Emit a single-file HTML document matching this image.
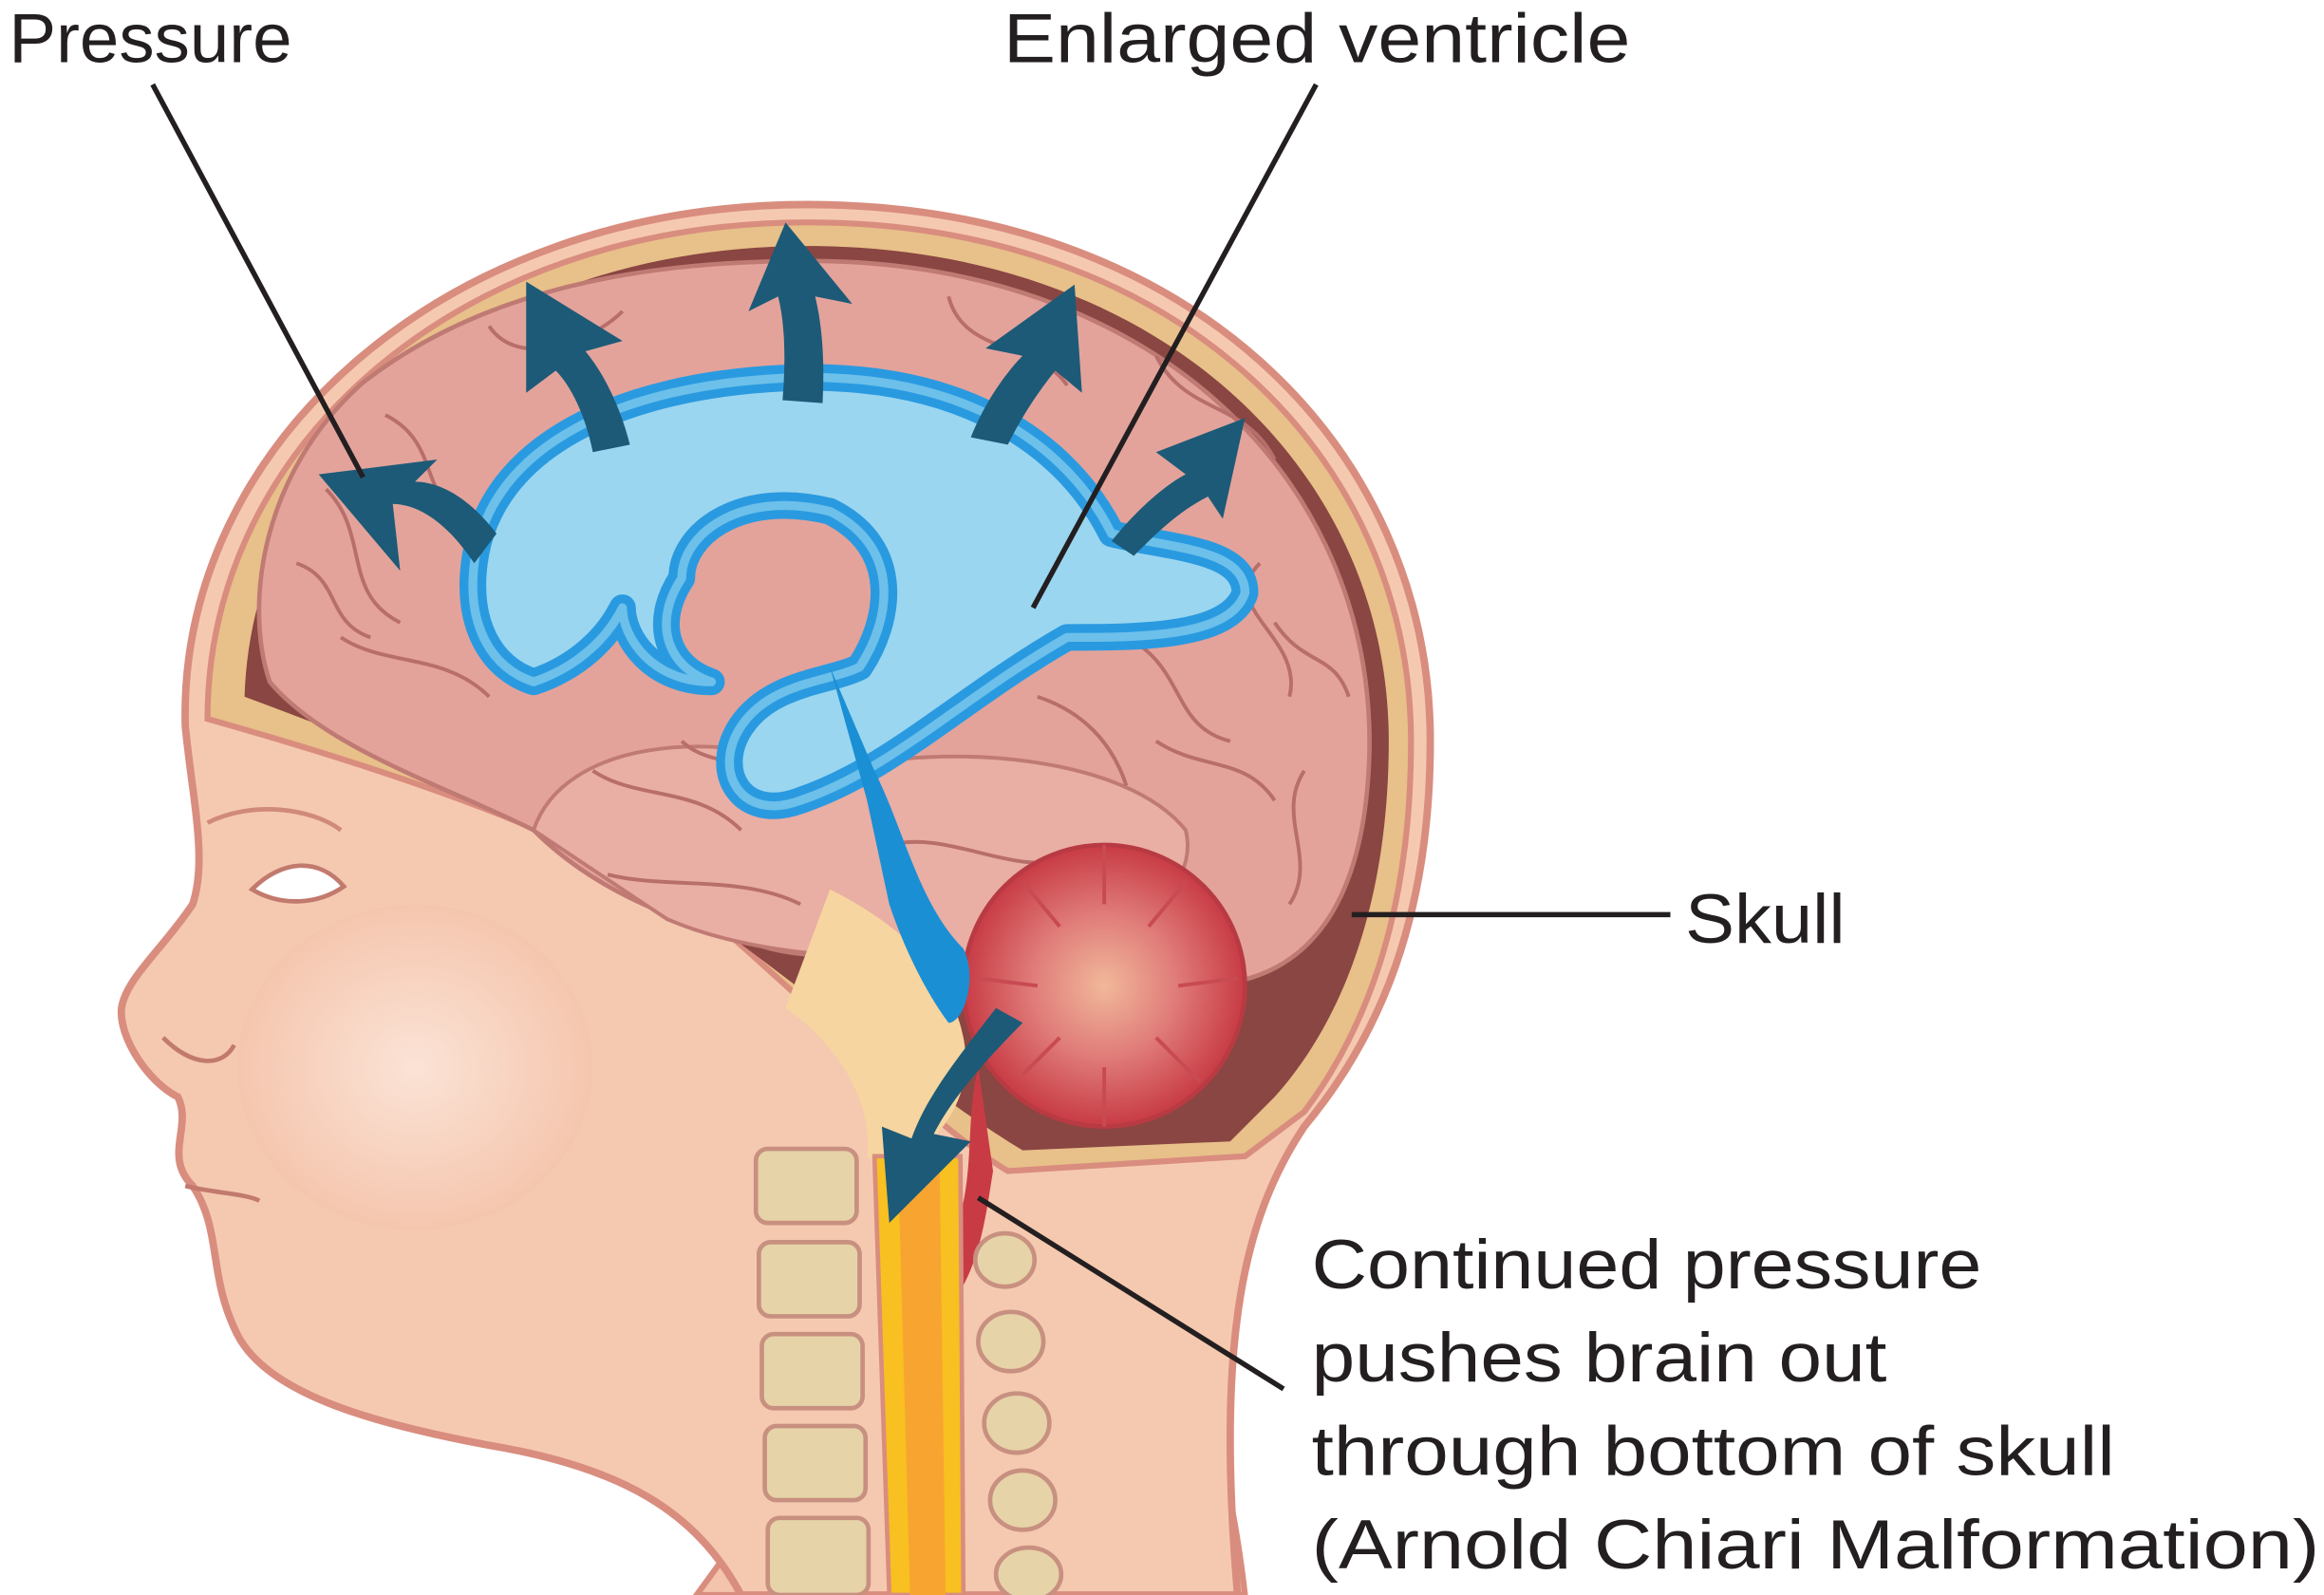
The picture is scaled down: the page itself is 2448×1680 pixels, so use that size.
<!DOCTYPE html>
<html><head><meta charset="utf-8"><style>
html,body{margin:0;padding:0;background:#fff;width:2448px;height:1680px;overflow:hidden}
svg{display:block}
text{font-family:"Liberation Sans",sans-serif;fill:#231f20}
</style></head><body>
<svg width="2448" height="1680" viewBox="0 0 1568 1076" preserveAspectRatio="none" xmlns="http://www.w3.org/2000/svg">
<defs>
<radialGradient id="cheek" cx="0.5" cy="0.5" r="0.5"><stop offset="0" stop-color="#fbe3d6"/><stop offset="1" stop-color="#f5c6ae"/></radialGradient>
<radialGradient id="cb" cx="0.5" cy="0.5" r="0.5"><stop offset="0" stop-color="#f1b89a"/><stop offset="0.5" stop-color="#e07d7a"/><stop offset="1" stop-color="#c83b45"/></radialGradient>
</defs>
<rect width="1568" height="1076" fill="#fff"/>
<path d="M700,760 C760,830 820,900 840,1076 L470,1076 Z" fill="#f3c4ab" stroke="#d98d7e" stroke-width="4"/>
<path d="M545,138 C800,138 965,300 965,500 C965,620 930,700 880,760 C840,820 820,900 835,1076 L500,1076 C470,1020 420,990 330,975 C250,960 180,940 160,900 C140,860 150,830 130,800 C110,780 130,760 120,740 C100,730 80,700 82,680 C85,660 110,640 130,610 C140,580 130,540 125,490 C120,300 300,138 545,138 Z" fill="#f5c9b0" stroke="#d98d7e" stroke-width="5"/>
<ellipse cx="280" cy="720" rx="120" ry="110" fill="url(#cheek)"/>
<path d="M545,150 C790,150 952,305 952,500 C952,610 925,690 880,750 L840,780 L680,790 C630,760 560,690 480,620 C400,570 300,530 140,485 C140,300 310,150 545,150 Z" fill="#e8c08a" stroke="#d98d7e" stroke-width="4"/>
<path d="M545,166 C780,166 937,315 937,500 C937,610 905,690 860,740 L830,770 L690,776 C630,740 560,680 470,615 C390,560 300,520 165,470 C170,305 320,166 545,166 Z" fill="#8a4642"/>
<path d="M545,176 C775,176 926,320 924,505 C922,600 890,650 835,662 C760,680 700,640 640,640 C600,640 560,650 520,640 C450,620 400,600 360,560 C300,530 220,505 182,460 C165,410 175,320 245,258 C325,196 430,176 545,176 Z" fill="#e3a39b" stroke="#c07a74" stroke-width="3"/>
<path d="M360,560 C380,500 480,490 560,520 C640,500 760,510 800,560 C810,600 760,640 700,640 C620,650 520,650 450,620 Z" fill="#e9aea4" stroke="#c07a74" stroke-width="2.5"/>
<g fill="none" stroke="#b86e6a" stroke-width="2.5">
<path d="M220,330 C250,360 230,400 270,420 M260,280 C300,300 280,340 320,350 M640,200 C650,240 700,230 720,260 M780,240 C800,280 840,270 860,310 M850,380 C820,410 880,430 870,470 M760,430 C800,450 790,490 830,500 M400,520 C430,540 470,530 500,560 M600,570 C640,560 680,590 720,580 M230,430 C260,450 300,440 330,470 M880,520 C860,550 890,580 870,610 M410,590 C450,600 500,590 540,610 M200,380 C230,390 220,420 250,430 M330,220 C350,250 400,230 420,210 M860,420 C880,450 900,440 910,470 M780,500 C810,520 840,510 860,540 M700,470 C730,480 750,500 760,530 M460,500 C480,520 520,510 540,530"/>
</g>
<path d="M560,600 C600,620 640,650 650,700 C660,750 620,780 600,790 L585,780 C590,740 560,700 530,680 Z" fill="#f6d5a0"/>
<circle cx="745" cy="665" r="95" fill="url(#cb)" stroke="#b83a42" stroke-width="3"/>
<g fill="none" stroke="#c84a52" stroke-width="2.5">
<path d="M745,570 L745,610 M800,595 L775,625 M835,660 L795,665 M810,730 L780,700 M745,760 L745,720 M690,725 L715,700 M660,660 L700,665 M690,595 L715,625"/>
</g>
<path d="M660,720 C650,760 660,800 640,840 C620,870 625,890 630,890 C660,870 665,820 670,790 Z" fill="#c83b45"/>
<g fill="#e6d3a8" stroke="#c89080" stroke-width="3">
<rect x="510" y="775" width="68" height="50" rx="8"/><rect x="512" y="838" width="68" height="50" rx="8"/><rect x="514" y="900" width="68" height="50" rx="8"/><rect x="516" y="962" width="68" height="50" rx="8"/><rect x="518" y="1024" width="68" height="52" rx="8"/>
<ellipse cx="678" cy="850" rx="20" ry="18"/><ellipse cx="682" cy="905" rx="22" ry="20"/><ellipse cx="686" cy="960" rx="22" ry="20"/><ellipse cx="690" cy="1012" rx="22" ry="20"/><ellipse cx="694" cy="1062" rx="22" ry="18"/>
</g>
<path d="M590,780 L648,780 L650,1076 L600,1076 Z" fill="#f8c020" stroke="#d98d7e" stroke-width="3"/>
<path d="M606,790 L634,790 L638,1076 L614,1076 Z" fill="#f7a530"/>
<path d="M320,380 C330,300 420,260 530,255 C650,250 720,300 750,360 C790,370 840,370 840,400 C830,430 770,430 720,430 C650,470 600,520 540,540 C500,555 480,520 500,490 C520,460 560,460 580,450 C600,420 610,370 560,345 C500,330 460,360 460,390 C440,420 450,450 480,460 C440,460 420,430 420,410 C410,430 390,450 360,460 C330,450 315,420 320,380 Z" fill="#9ad6f0" stroke="#2a9ae0" stroke-width="18" stroke-linejoin="round"/>
<path d="M320,380 C330,300 420,260 530,255 C650,250 720,300 750,360 C790,370 840,370 840,400 C830,430 770,430 720,430 C650,470 600,520 540,540 C500,555 480,520 500,490 C520,460 560,460 580,450 C600,420 610,370 560,345 C500,330 460,360 460,390 C440,420 450,450 480,460 C440,460 420,430 420,410 C410,430 390,450 360,460 C330,450 315,420 320,380 Z" fill="none" stroke="#6cc0ea" stroke-width="6" stroke-linejoin="round"/>
<path d="M560,450 L590,520 C610,560 620,610 650,640 C660,660 650,690 640,690 C625,670 610,640 600,610 L585,540 Z" fill="#1b8fd4"/>
<circle cx="517" cy="398" r="10" fill="#e3a39b"/>
<g fill="#1d5a77">
<path d="M320,380 C300,350 280,340 265,340 L270,385 L215,320 L295,310 L280,325 C300,325 320,340 335,360 Z"/>
<path d="M400,305 C395,280 385,260 375,250 L355,265 L355,190 L420,230 L395,237 C410,255 420,280 425,300 Z"/>
<path d="M528,270 C530,245 530,220 525,200 L505,210 L530,150 L575,205 L550,200 C556,225 556,250 555,272 Z"/>
<path d="M655,295 C665,270 680,250 690,240 L665,235 L725,192 L730,265 L712,250 C700,265 690,280 680,300 Z"/>
<path d="M750,365 C770,340 790,325 800,320 L780,305 L840,282 L825,350 L815,335 C795,345 780,360 765,375 Z"/>
<path d="M690,690 C660,720 640,745 630,765 L655,770 L600,825 L595,760 L615,768 C625,740 645,715 672,680 Z"/>
</g>
<path d="M170,600 C190,580 215,578 232,598 C215,610 190,612 170,600 Z" fill="#fff" stroke="#c27a6e" stroke-width="3"/>
<path d="M140,555 C170,540 210,545 230,560" fill="none" stroke="#d08a7a" stroke-width="3"/>
<path d="M110,700 C130,720 150,720 158,705" fill="none" stroke="#c27a6e" stroke-width="3"/>
<path d="M125,800 C145,805 165,805 175,810" fill="none" stroke="#c27a6e" stroke-width="3"/>
<g stroke="#231f20" stroke-width="3.5" fill="none">
<line x1="103" y1="57" x2="245" y2="322"/>
<line x1="888" y1="57" x2="697" y2="410"/>
<line x1="912" y1="617" x2="1127" y2="617"/>
<line x1="866" y1="937" x2="660" y2="808"/>
</g>
<g font-size="47">
<text x="6" y="42" textLength="191" lengthAdjust="spacingAndGlyphs">Pressure</text>
<text x="677" y="42" textLength="423" lengthAdjust="spacingAndGlyphs">Enlarged ventricle</text>
<text x="1137" y="636" textLength="108" lengthAdjust="spacingAndGlyphs">Skull</text>
<text x="885" y="869" textLength="452" lengthAdjust="spacingAndGlyphs">Continued pressure</text>
<text x="885" y="932" textLength="388" lengthAdjust="spacingAndGlyphs">pushes brain out</text>
<text x="885" y="995" textLength="542" lengthAdjust="spacingAndGlyphs">through bottom of skull</text>
<text x="885" y="1058" textLength="680" lengthAdjust="spacingAndGlyphs">(Arnold Chiari Malformation)</text>
</g>
</svg>
</body></html>
